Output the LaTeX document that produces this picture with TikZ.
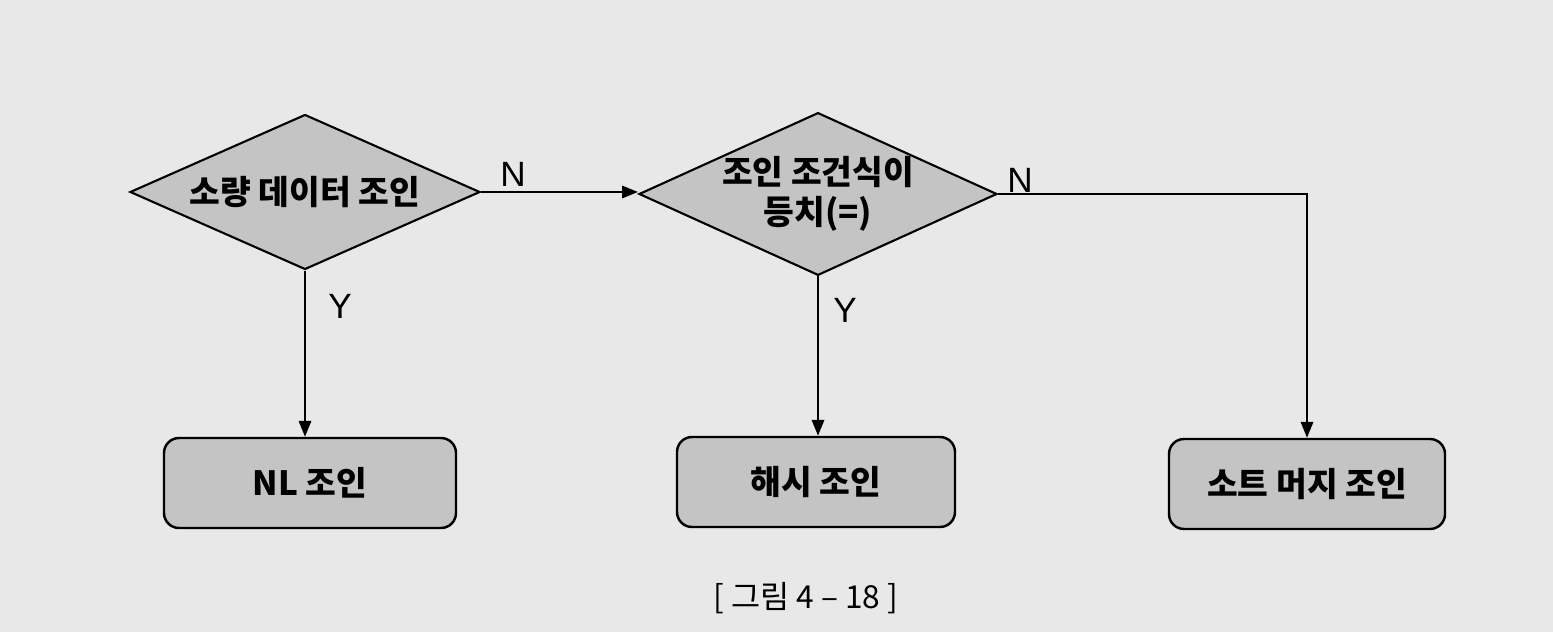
\documentclass[tikz,border=0pt]{standalone}
\usepackage{fontspec}
\setmainfont{Noto Sans CJK KR}
\newfontfamily\labfont{Liberation Sans}
\usetikzlibrary{shapes.geometric,arrows.meta}
\definecolor{paper}{RGB}{232,232,232}
\definecolor{boxgray}{RGB}{196,196,196}
\begin{document}
\begin{tikzpicture}[
    decision/.style={diamond,draw,line width=1.2pt,fill=boxgray,aspect=2.2,inner sep=0pt,
      minimum width=7cm,minimum height=3.1cm,align=center,font=\fontsize{19}{23}\selectfont\bfseries},
    joinbox/.style={draw,line width=1.4pt,fill=boxgray,rounded corners=0.3cm,
      minimum width=5.6cm,minimum height=1.8cm,font=\fontsize{19}{23}\selectfont\bfseries},
    yn/.style={font=\fontsize{20}{24}\labfont}]
      \useasboundingbox[fill=paper] (0,0) rectangle (31.06,12.64);
      \draw
        (6.1,8.8) node[decision] (small){소량 데이터 조인}
        (16.36,8.76) node[decision,minimum width=7.1cm,minimum height=3.04cm] (equi){조인 조건식이\\등치(=)}
        (6.2,2.98) node[joinbox,minimum width=5.84cm] (nl){NL 조인}
        (16.32,3.0) node[joinbox,minimum width=5.56cm] (hash){해시 조인}
        (26.14,2.96) node[joinbox,minimum width=5.52cm] (sort){소트 머지 조인}
        (10.26,9.16) node[yn] (n1){N}
        (20.4,9.04) node[yn] (n2){N}
        (6.8,6.52) node[yn] (y1){Y}
        (16.9,6.44) node[yn] (y2){Y}
        (16.12,0.68) node[font=\fontsize{18}{22}\selectfont] (cap){[ 그림 4 -- 18 ]};
      \begin{scope}[-{Triangle[length=9pt,width=7pt]},line width=1.2pt]
        \draw (small.east) to (small.east -| equi.west);
        \draw (small.south) to (small.south |- nl.north);
        \draw (equi.south) to (equi.south |- hash.north);
        \draw (equi.east) -| (sort.north);
      \end{scope}
    \end{tikzpicture}
\end{document}
